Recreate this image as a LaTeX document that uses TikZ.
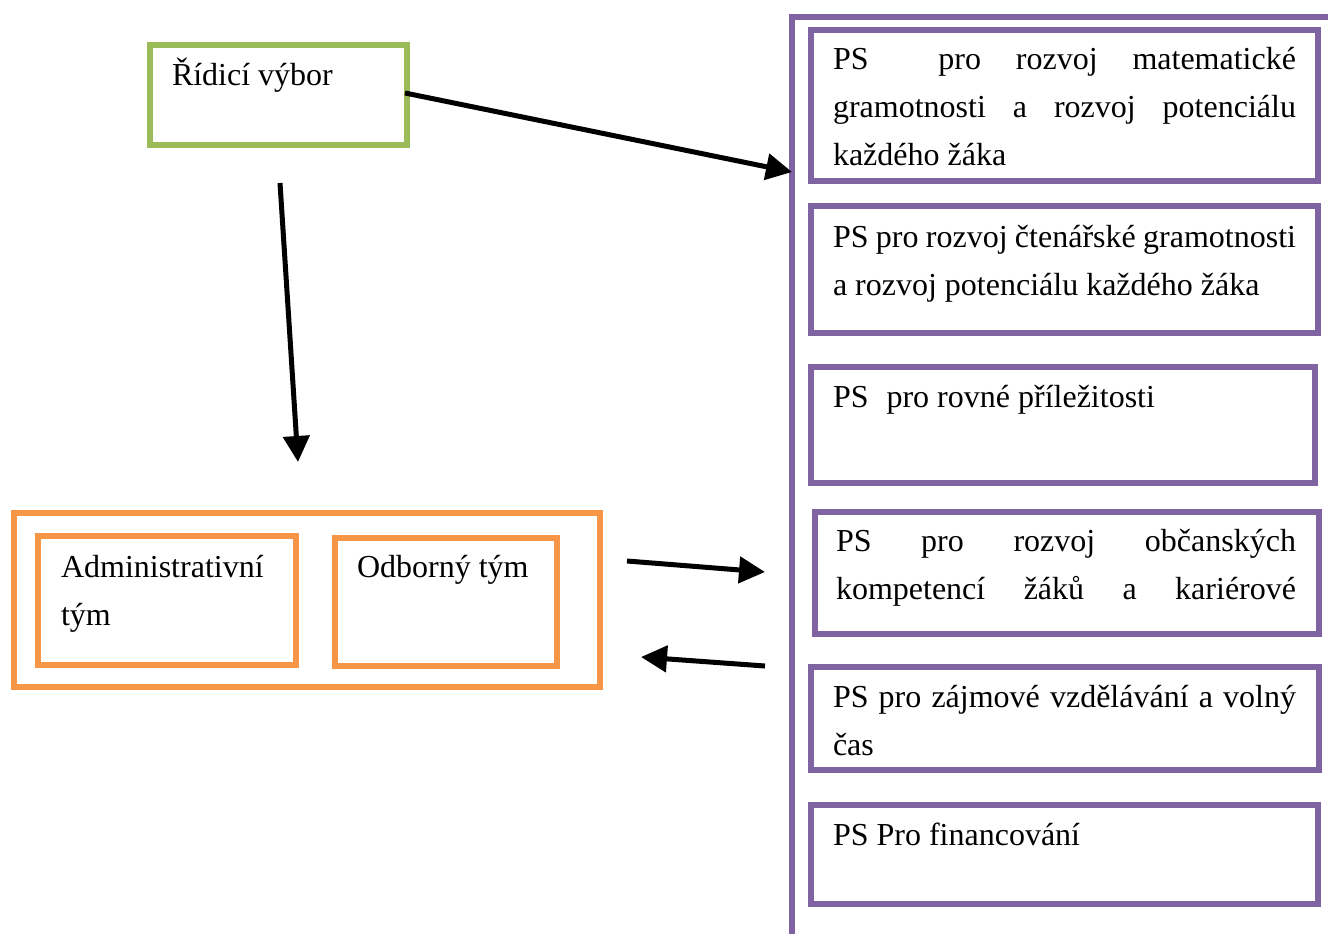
\documentclass[tikz,border=0pt]{standalone}
\usepackage{fontspec}
\setmainfont{Liberation Serif}
\usetikzlibrary{arrows.meta}
\definecolor{grn}{HTML}{9BBB59}
\definecolor{org}{HTML}{F79646}
\definecolor{pur}{HTML}{8064A2}
\begin{document}
\begin{tikzpicture}[x=1pt,y=-1pt,
  box/.style={draw,line width=5.5pt,inner sep=0pt,outer sep=0pt,anchor=north west},
  gbox/.style={box,draw=grn},
  obox/.style={box,draw=org},
  pbox/.style={box,draw=pur},
  txt/.style={anchor=base west,inner sep=0pt,outer sep=0pt,font=\fontsize{32}{48}\selectfont,align=left},
  arr/.style={line width=5pt,-{Triangle[length=26pt,width=26pt]}}]
\useasboundingbox (0,0) rectangle (1328,934);
% big frame
\draw[pur,line width=5.5pt] (792,945) -- (792,17) -- (1345,17);
% green
\node[gbox,minimum width=257pt,minimum height=100pt] (rv) at (150,45) {};
\node[txt] (rvt) at (172,85) {\spaceskip0pt\xspaceskip0pt Řídicí výbor};
% orange
\node[obox,minimum width=586pt,minimum height=174pt] (team) at (14,513) {};
\node[obox,minimum width=258pt,minimum height=129pt] (adm) at (38,536) {};
\node[obox,minimum width=222pt,minimum height=128pt] (odb) at (335,538) {};
\node[txt,text width=240pt] (admt) at (61,577) {\spaceskip0pt\xspaceskip0pt Administrativní\\tým};
\node[txt] (odbt) at (357,577) {\spaceskip0pt\xspaceskip0pt Odborný tým};
% purple boxes
\node[pbox,minimum width=507pt,minimum height=151pt] (p1) at (811,30) {};
\node[pbox,minimum width=507pt,minimum height=127pt] (p2) at (811,206) {};
\node[pbox,minimum width=504pt,minimum height=116pt] (p3) at (811,367) {};
\node[pbox,minimum width=504pt,minimum height=122pt] (p4) at (815,512) {};
\node[pbox,minimum width=508pt,minimum height=103pt] (p5) at (811,667) {};
\node[pbox,minimum width=507pt,minimum height=99pt] (p6) at (811,805) {};
\node[txt,text width=463pt] (p1t) at (833,70) {\spaceskip0pt\xspaceskip0pt
  \makebox[463pt][l]{PS\hfill\hfill pro\hfill rozvoj\hfill matematické}\\
  \makebox[463pt][l]{gramotnosti\hfill a\hfill rozvoj\hfill potenciálu}\\
  každého žáka};
\node[txt,text width=463pt] (p2t) at (833,247) {\spaceskip0pt\xspaceskip0pt
  \makebox[463pt][l]{PS\hfill pro\hfill rozvoj\hfill čtenářské\hfill gramotnosti}\\
  a rozvoj potenciálu každého žáka};
\node[txt] (p3t) at (833,407) {\spaceskip0pt\xspaceskip0pt PS\hspace{18pt}pro rovné příležitosti};
\node[txt,text width=460pt] (p4t) at (836,551) {\spaceskip0pt\xspaceskip0pt
  \makebox[460pt][l]{PS\hfill pro\hfill rozvoj\hfill občanských}\\
  \makebox[460pt][l]{kompetencí\hfill žáků\hfill a\hfill kariérové}};
\node[txt,text width=463pt] (p5t) at (833,707) {\spaceskip0pt\xspaceskip0pt
  \makebox[463pt][l]{PS\hfill pro\hfill zájmové\hfill vzdělávání\hfill a\hfill volný}\\
  čas};
\node[txt] (p6t) at (833,845) {\spaceskip0pt\xspaceskip0pt PS Pro financování};
% arrows
\coordinate (a1e) at (792,172);
\coordinate (a2s) at (280,183);
\coordinate (a2e) at (298,462);
\coordinate (a3s) at (627,561);
\coordinate (a3e) at (765,572);
\coordinate (a4s) at (765,666);
\coordinate (a4e) at (641,657);
\draw[arr] ([xshift=-2pt,yshift=2pt]rv.east) -- (a1e);
\draw[arr] (a2s) -- (a2e);
\draw[arr] (a3s) -- (a3e);
\draw[arr] (a4s) -- (a4e);
\end{tikzpicture}
\end{document}
